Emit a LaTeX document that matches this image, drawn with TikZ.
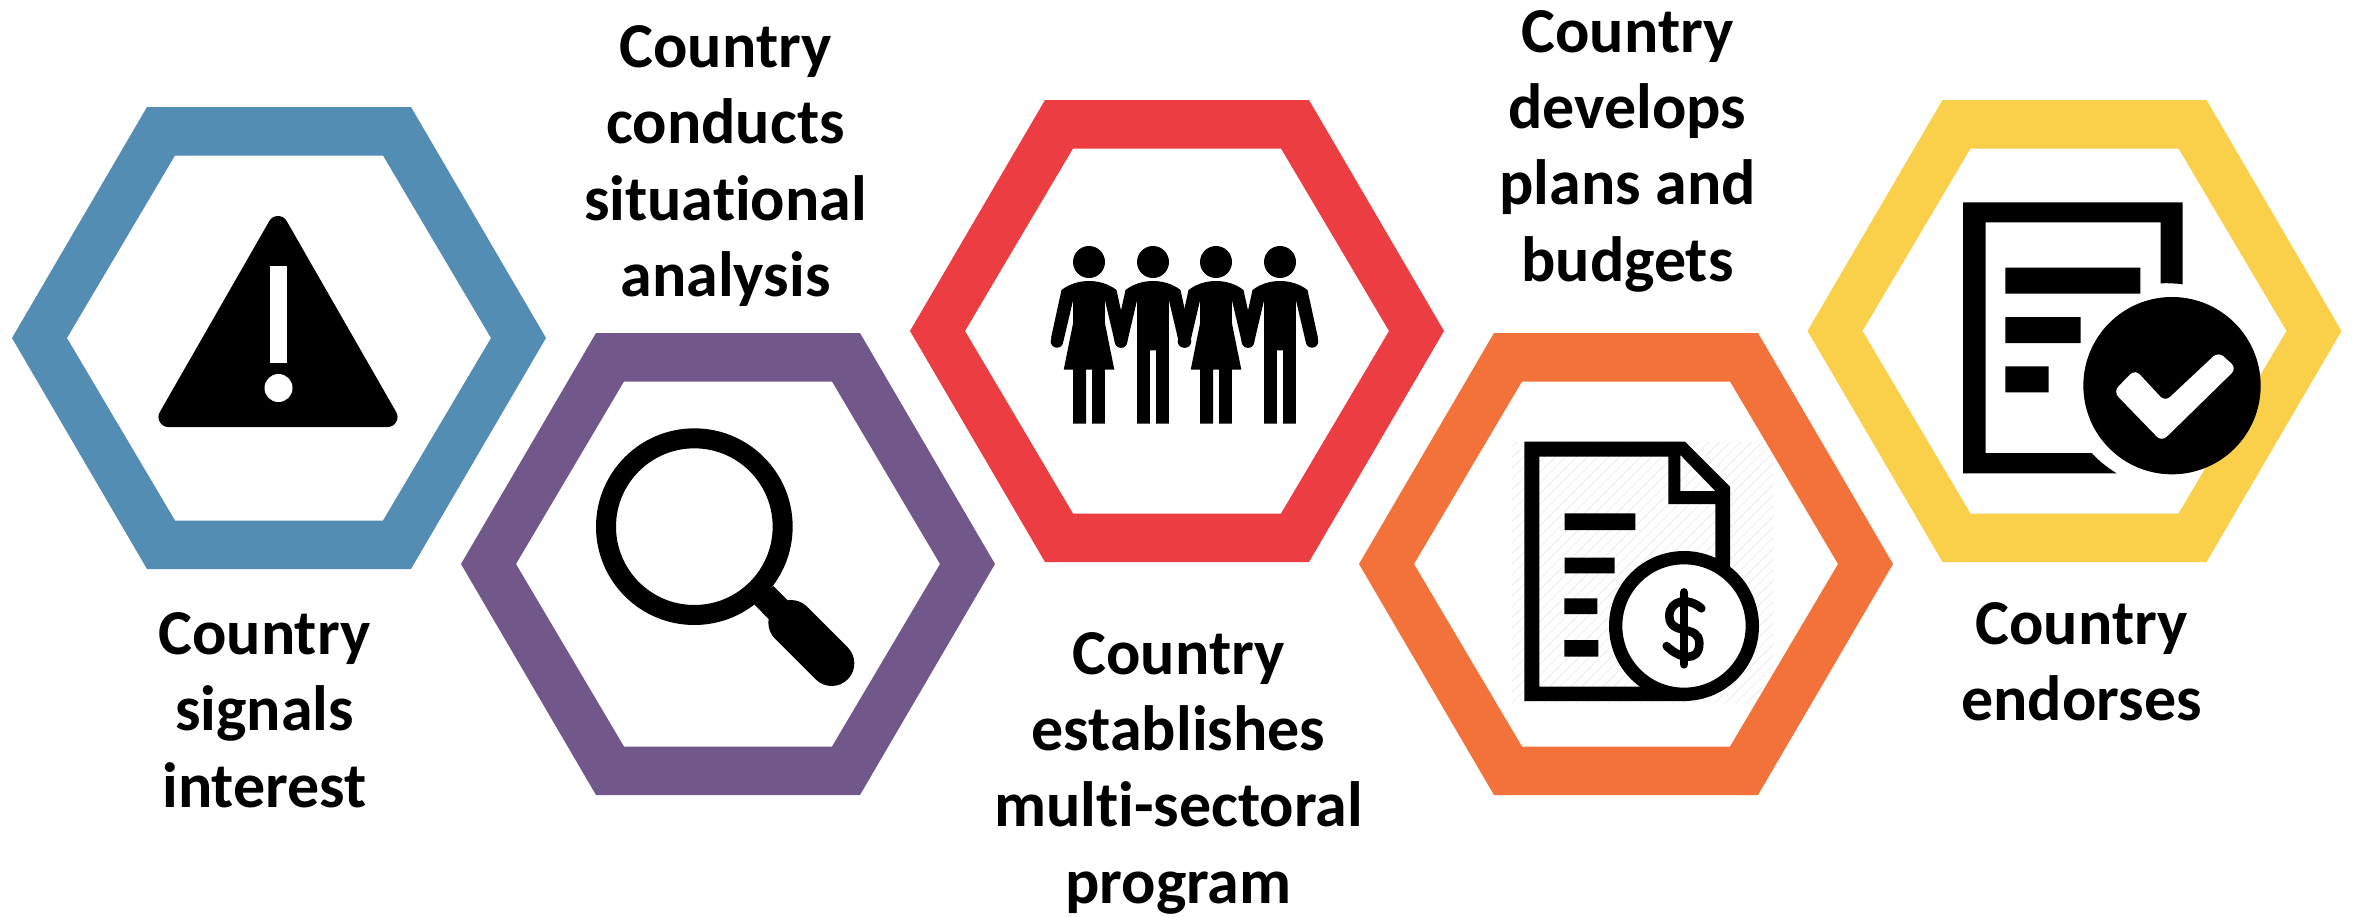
\documentclass[tikz,border=0pt]{standalone}
\usepackage{fontspec}
\setmainfont{Carlito}[BoldFont={Carlito Bold},Ligatures=NoCommon]
\definecolor{hblue}{HTML}{548DB3}
\definecolor{hpurple}{HTML}{72588A}
\definecolor{hred}{HTML}{EC3E42}
\definecolor{horange}{HTML}{F3723A}
\definecolor{hyellow}{HTML}{FAD04A}
\tikzset{
  cap text/.style={align=center,font=\bfseries\fontsize{64}{76.3}\selectfont,text=black,inner sep=0pt},
  hexring/.style={fill=#1,even odd rule},
  ink/.style={fill=black},
}
\newcommand{\hexagonring}[3]{%
  \fill[hexring=#3,shift={(#1,#2)}]
    (-267,0)--(-132,-231)--(132,-231)--(267,0)--(132,231)--(-132,231)--cycle
    (-212,0)--(-104,-182.5)--(104,-182.5)--(212,0)--(104,182.5)--(-104,182.5)--cycle;}
\newcommand{\upperbody}{(-27.5,290) .. controls (-12,278) and (12,278) .. (27.5,290) -- (38,338) -- (26,343) -- (15.9,300)}
\newcommand{\upperbodyend}{(-15.9,300) -- (-26,343) -- (-38,338) -- cycle (-32,341.4) circle (6.3) (32,341.4) circle (6.3)}
\newcommand{\womanfig}[1]{%
  \begin{scope}[shift={(#1,0)}]
  \fill[ink] (0,262) circle (16);
  \fill[ink] \upperbody -- (15.9,323) -- (25.3,369.7) -- (-25.3,369.7) -- (-15.9,323) -- \upperbodyend;
  \fill[ink] (-15.9,369) rectangle (-3,423.7) (3.2,369) rectangle (15.9,423.7);
  \end{scope}}
\newcommand{\manfig}[1]{%
  \begin{scope}[shift={(#1,0)}]
  \fill[ink] (0,262) circle (16);
  \fill[ink] \upperbody -- (15.9,423.7) -- (3.2,423.7) -- (3.2,350.3) -- (-3.2,350.3) -- (-3.2,423.7) -- (-15.9,423.7) -- \upperbodyend;
  \end{scope}}
\begin{document}
\begin{tikzpicture}[x=1pt,y=-1pt]
\useasboundingbox (0,0) rectangle (2354,916);
\fill[white] (0,0) rectangle (2354,916);
% faint hatching behind the budget document
\begin{scope}[shift={(1480,410)},xscale=1/3,yscale=1/3]
\clip (95,95) rectangle (880,880);
\foreach \d in {0,32,...,800}
  \draw[black!6,line width=1pt] (95+\d,880) -- (880,95+\d);
\foreach \d in {32,64,...,800}
  \draw[black!6,line width=1pt] (95,880-\d) -- (880-\d,95);
\end{scope}
% hexagons
\hexagonring{279}{338}{hblue}
\hexagonring{728}{564}{hpurple}
\hexagonring{1177}{331}{hred}
\hexagonring{1626}{564}{horange}
\hexagonring{2074.5}{331}{hyellow}
% warning icon
\filldraw[black,line width=20pt,line join=round] (278,226) -- (387.5,417) -- (168.5,417) -- cycle;
\fill[white] (270,266) rectangle (287,363);
\fill[white] (278.5,388) circle (14);
% magnifier
\begin{scope}[shift={(560,400)},xscale=1/3,yscale=1/3]
\fill[ink,even odd rule] (403,380) circle (295) (403,380) circle (235);
\fill[ink] (640,558) -- (700,618) -- (643,675) -- (583,613) -- cycle;
\draw[black,line width=45.3pt,line cap=round] (693,668) -- (815,790);
\end{scope}
% people
\womanfig{1089}
\manfig{1153}
\womanfig{1216}
\manfig{1280}
% budget document
\begin{scope}[shift={(1480,410)},xscale=1/3,yscale=1/3]
\fill[ink,even odd rule] (133,95)--(615,95)--(750,230)--(750,500)--(620,873)--(133,873)--cycle
  (178,140)--(565,140)--(565,282)--(706,282)--(706,480)--(500,830)--(178,830)--cycle
  (601,135)--(706,243)--(601,243)--cycle;
\fill[white] (612,648) circle (200);
\fill[ink,even odd rule] (612,648) circle (225) (612,648) circle (185);
\fill[ink] (254,310) rectangle (466,360) (254,443) rectangle (404,490) (253,565) rectangle (352,612) (253,690) rectangle (355,740);
\draw[black,line width=8.5pt,line cap=round] (612,547) -- (612,763);
\draw[black,line width=8.5pt,line cap=round] (664,595) .. controls (625,560) and (568,570) .. (568,618) .. controls (568,680) and (658,640) .. (658,700) .. controls (658,760) and (595,745) .. (560,708);
\end{scope}
% endorsed document
\begin{scope}[shift={(1900,170)},xscale=1/3,yscale=1/3]
\fill[ink] (189,97)--(848,97)--(848,343) .. controls (826,340) and (804,339) .. (782,340) --(782,157)--(257,157)--(257,849)--(575,849) .. controls (597,873) and (622,893) .. (650,910) --(189,910)--cycle;
\fill[ink] (316,293) rectangle (721,371) (316,441) rectangle (542,519) (316,589) rectangle (446,667);
\fill[ink] (816,647) circle (266);
\fill[white,rounded corners=7pt] (640,665) -- (705,598) -- (795,695) -- (955,545) -- (1010,595) -- (785,815) -- cycle;
\end{scope}
% captions
\node[cap text] (signals) at (264.5,710) {Country\\signals\\interest};
\node[cap text] (analysis) at (725.5,166) {Country\\conducts\\situational\\analysis};
\node[cap text] (program) at (1178.5,773) {Country\\establishes\\multi-sectoral\\program};
\node[cap text] (budgets) at (1627.5,151) {Country\\develops\\plans and\\budgets};
\node[cap text] (endorses) at (2081.5,662) {Country\\endorses};
\end{tikzpicture}
\end{document}
